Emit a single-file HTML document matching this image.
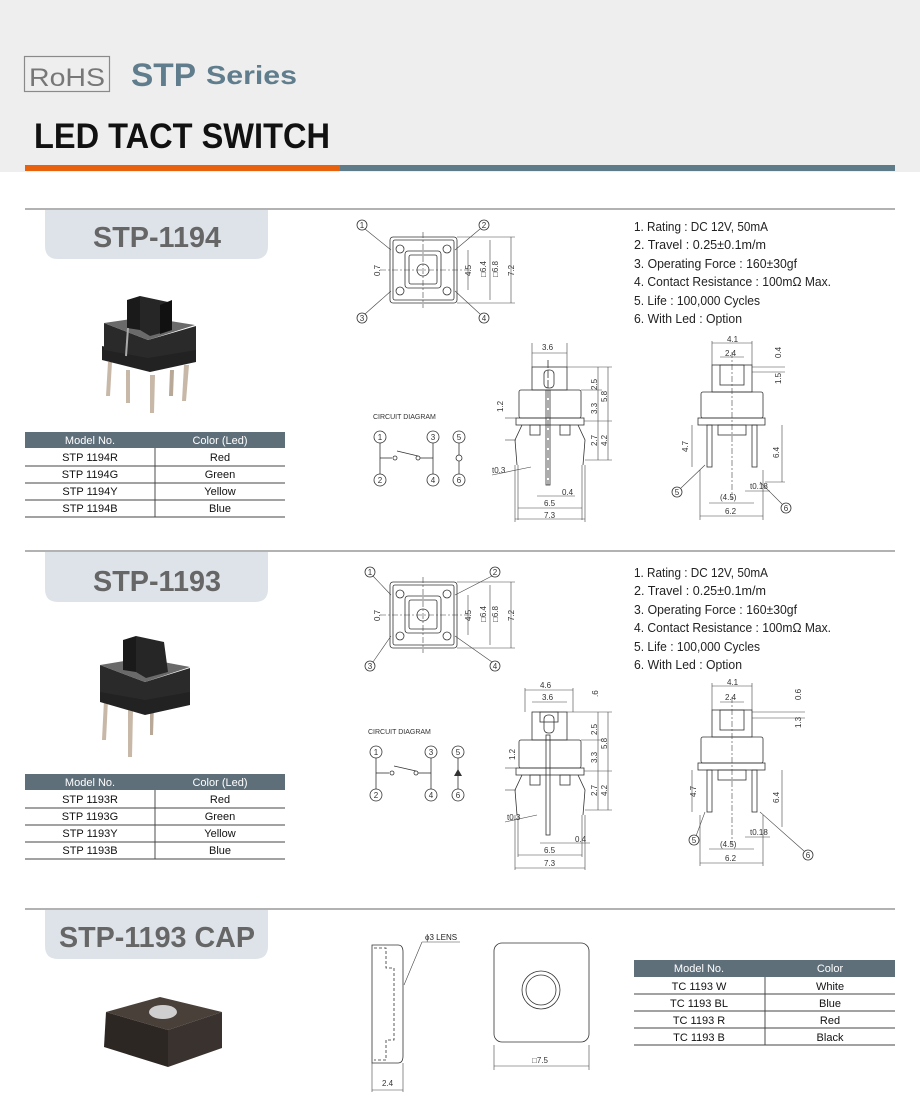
<!DOCTYPE html>
<html><head><meta charset="utf-8"><style>
html,body{margin:0;padding:0;background:#fff}
svg{display:block}
text{font-family:"Liberation Sans",sans-serif}
.d{fill:none;stroke:#333;stroke-width:0.8}
.t{stroke:#444;stroke-width:0.6;fill:none}
.s{font-size:8px;fill:#333}
.sp{font-size:13px;fill:#222}
.tb{font-size:11px;fill:#111;text-anchor:middle}
.th{font-size:11px;fill:#fff;text-anchor:middle}
.c{fill:#fff;stroke:#333;stroke-width:0.8}
.cn{font-size:8px;fill:#333;text-anchor:middle}
</style></head><body>
<svg width="920" height="1104" viewBox="0 0 920 1104" xmlns="http://www.w3.org/2000/svg">
<rect x="0" y="0" width="920" height="172" fill="#eeeeee"/>
<rect x="24.5" y="56.5" width="85" height="35" fill="none" stroke="#8a8a8a" stroke-width="1.2"/>
<text x="29" y="86" font-size="25" fill="#777" textLength="76" lengthAdjust="spacingAndGlyphs">RoHS</text>
<text x="131" y="86" font-size="32" font-weight="bold" fill="#5f7d8c" textLength="65" lengthAdjust="spacingAndGlyphs">STP</text>
<text x="206" y="84" font-size="26" font-weight="bold" fill="#5f7d8c" textLength="91" lengthAdjust="spacingAndGlyphs">Series</text>
<text x="34" y="148" font-size="35" font-weight="bold" fill="#111" textLength="296" lengthAdjust="spacingAndGlyphs">LED TACT SWITCH</text>
<rect x="25" y="165" width="315" height="6" fill="#e8620e"/>
<rect x="340" y="165" width="555" height="6" fill="#5e7b89"/>

<g>
<line x1="25" y1="209" x2="895" y2="209" stroke="#999" stroke-width="1.5"/>
<path d="M45 210 H268 V246 Q268 259 255 259 H58 Q45 259 45 246 Z" fill="#dde3e8"/>
<text x="157" y="247" font-size="29" font-weight="bold" fill="#666" text-anchor="middle" textLength="128" lengthAdjust="spacingAndGlyphs">STP-1194</text>
<line x1="25" y1="551" x2="895" y2="551" stroke="#999" stroke-width="1.5"/>
<path d="M45 552 H268 V589 Q268 602 255 602 H58 Q45 602 45 589 Z" fill="#dde3e8"/>
<text x="157" y="591" font-size="29" font-weight="bold" fill="#666" text-anchor="middle" textLength="128" lengthAdjust="spacingAndGlyphs">STP-1193</text>
<line x1="25" y1="909" x2="895" y2="909" stroke="#999" stroke-width="1.5"/>
<path d="M45 910 H268 V946 Q268 959 255 959 H58 Q45 959 45 946 Z" fill="#dde3e8"/>
<text x="157" y="947" font-size="29" font-weight="bold" fill="#666" text-anchor="middle" textLength="196" lengthAdjust="spacingAndGlyphs">STP-1193 CAP</text>
</g>

<g>
<polygon points="108,362 112,362 110,396 106,396" fill="#c8b8a8"/>
<polygon points="126,370 130,370 130,403 126,403" fill="#c8b8a8"/>
<polygon points="150,375 155,375 154,413 150,413" fill="#c8b8a8"/>
<polygon points="170,370 174,370 173,396 169,396" fill="#b8a898"/>
<polygon points="184,365 189,365 186,401 182,401" fill="#c8b8a8"/>
<polygon points="102,346 148,356 196,348 196,362 150,372 102,360" fill="#222"/>
<polygon points="104,323 104,350 148,358 196,350 196,326 148,340" fill="#2a2a2a"/>
<polygon points="104,323 145,317 195,325 148,340" fill="#6a6a6a"/>
<polygon points="127,300 140,296 140,330 127,328" fill="#1a1a1a"/>
<polygon points="140,296 168,302 172,330 150,336 140,330" fill="#262626"/>
<polygon points="160,305 172,300 172,330 160,334" fill="#111"/>
<line x1="128" y1="328" x2="126" y2="356" stroke="#aaa" stroke-width="2"/>
</g>
<g>
<polygon points="104,700 108,700 106,740 102,740" fill="#c8b8a8"/>
<polygon points="128,710 133,710 132,757 128,757" fill="#c8b8a8"/>
<polygon points="150,705 154,705 153,735 150,735" fill="#b8a898"/>
<polygon points="100,688 145,698 190,690 190,705 145,715 100,702" fill="#222"/>
<polygon points="100,665 100,692 145,700 190,692 190,668 145,682" fill="#2a2a2a"/>
<polygon points="100,665 142,658 190,667 145,682" fill="#6a6a6a"/>
<polygon points="123,640 136,636 136,672 123,670" fill="#1a1a1a"/>
<polygon points="136,636 164,642 168,672 146,678 136,672" fill="#262626"/>
</g>
<g>
<polygon points="106,1012 160,997 222,1012 168,1030" fill="#4a403a"/>
<polygon points="106,1012 168,1030 168,1067 104,1047" fill="#2d2724"/>
<polygon points="168,1030 222,1012 222,1048 168,1067" fill="#3a322e"/>
<ellipse cx="163" cy="1012" rx="14" ry="7" fill="#cfcfcf"/>
</g>

<g>
<rect x="25" y="432" width="260" height="16" fill="#5e6f7a"/>
<text class="th" x="90" y="444">Model No.</text><text class="th" x="220" y="444">Color (Led)</text>
<line x1="155" y1="448" x2="155" y2="517" stroke="#222" stroke-width="0.8"/>
<g stroke="#444" stroke-width="1"><line x1="25" y1="466" x2="285" y2="466"/><line x1="25" y1="483" x2="285" y2="483"/><line x1="25" y1="500" x2="285" y2="500"/><line x1="25" y1="517" x2="285" y2="517"/></g>
<text class="tb" x="90" y="461">STP 1194R</text><text class="tb" x="220" y="461">Red</text>
<text class="tb" x="90" y="478">STP 1194G</text><text class="tb" x="220" y="478">Green</text>
<text class="tb" x="90" y="495">STP 1194Y</text><text class="tb" x="220" y="495">Yellow</text>
<text class="tb" x="90" y="512">STP 1194B</text><text class="tb" x="220" y="512">Blue</text>
</g>
<g>
<rect x="25" y="774" width="260" height="16" fill="#5e6f7a"/>
<text class="th" x="90" y="786">Model No.</text><text class="th" x="220" y="786">Color (Led)</text>
<line x1="155" y1="790" x2="155" y2="859" stroke="#222" stroke-width="0.8"/>
<g stroke="#444" stroke-width="1"><line x1="25" y1="808" x2="285" y2="808"/><line x1="25" y1="825" x2="285" y2="825"/><line x1="25" y1="842" x2="285" y2="842"/><line x1="25" y1="859" x2="285" y2="859"/></g>
<text class="tb" x="90" y="803">STP 1193R</text><text class="tb" x="220" y="803">Red</text>
<text class="tb" x="90" y="820">STP 1193G</text><text class="tb" x="220" y="820">Green</text>
<text class="tb" x="90" y="837">STP 1193Y</text><text class="tb" x="220" y="837">Yellow</text>
<text class="tb" x="90" y="854">STP 1193B</text><text class="tb" x="220" y="854">Blue</text>
</g>
<g>
<rect x="634" y="960" width="261" height="17" fill="#5e6f7a"/>
<text class="th" x="699" y="972">Model No.</text><text class="th" x="830" y="972">Color</text>
<line x1="765" y1="977" x2="765" y2="1045" stroke="#222" stroke-width="0.8"/>
<g stroke="#444" stroke-width="1"><line x1="634" y1="994" x2="895" y2="994"/><line x1="634" y1="1011" x2="895" y2="1011"/><line x1="634" y1="1028" x2="895" y2="1028"/><line x1="634" y1="1045" x2="895" y2="1045"/></g>
<text class="tb" x="699" y="990">TC 1193 W</text><text class="tb" x="830" y="990">White</text>
<text class="tb" x="699" y="1007">TC 1193 BL</text><text class="tb" x="830" y="1007">Blue</text>
<text class="tb" x="699" y="1024">TC 1193 R</text><text class="tb" x="830" y="1024">Red</text>
<text class="tb" x="699" y="1041">TC 1193 B</text><text class="tb" x="830" y="1041">Black</text>
</g>

<g>
<text class="sp" x="634" y="231" textLength="134" lengthAdjust="spacingAndGlyphs">1. Rating : DC 12V, 50mA</text>
<text class="sp" x="634" y="249" textLength="132" lengthAdjust="spacingAndGlyphs">2. Travel : 0.25±0.1m/m</text>
<text class="sp" x="634" y="268" textLength="163" lengthAdjust="spacingAndGlyphs">3. Operating Force : 160±30gf</text>
<text class="sp" x="634" y="286" textLength="197" lengthAdjust="spacingAndGlyphs">4. Contact Resistance : 100mΩ Max.</text>
<text class="sp" x="634" y="305" textLength="126" lengthAdjust="spacingAndGlyphs">5. Life : 100,000 Cycles</text>
<text class="sp" x="634" y="323" textLength="108" lengthAdjust="spacingAndGlyphs">6. With Led : Option</text>
<text class="sp" x="634" y="577" textLength="134" lengthAdjust="spacingAndGlyphs">1. Rating : DC 12V, 50mA</text>
<text class="sp" x="634" y="595" textLength="132" lengthAdjust="spacingAndGlyphs">2. Travel : 0.25±0.1m/m</text>
<text class="sp" x="634" y="614" textLength="163" lengthAdjust="spacingAndGlyphs">3. Operating Force : 160±30gf</text>
<text class="sp" x="634" y="632" textLength="197" lengthAdjust="spacingAndGlyphs">4. Contact Resistance : 100mΩ Max.</text>
<text class="sp" x="634" y="651" textLength="126" lengthAdjust="spacingAndGlyphs">5. Life : 100,000 Cycles</text>
<text class="sp" x="634" y="669" textLength="108" lengthAdjust="spacingAndGlyphs">6. With Led : Option</text>
</g>

<g>
<rect class="d" x="390" y="237" width="67" height="66" rx="3"/>
<rect class="d" x="393" y="240" width="61" height="60" rx="2"/>
<rect class="d" x="405" y="251" width="36" height="37" rx="3"/>
<rect class="d" x="409" y="255" width="28" height="29" rx="2"/>
<circle class="d" cx="400" cy="249" r="4"/><circle class="d" cx="447" cy="249" r="4"/>
<circle class="d" cx="400" cy="291" r="4"/><circle class="d" cx="447" cy="291" r="4"/>
<circle class="d" cx="423" cy="270" r="6"/>
<line class="t" x1="380" y1="270" x2="470" y2="270" stroke-dasharray="6,2,2,2"/>
<line class="t" x1="423" y1="232" x2="423" y2="308" stroke-dasharray="6,2,2,2"/>
<line class="t" x1="457" y1="237" x2="515" y2="237"/><line class="t" x1="457" y1="303" x2="515" y2="303"/>
<line class="t" x1="468" y1="250" x2="468" y2="290"/><line class="t" x1="490" y1="240" x2="490" y2="300"/><line class="t" x1="511" y1="237" x2="511" y2="303"/>
<text class="s" transform="translate(471,276) rotate(-90)">4.5</text>
<text class="s" transform="translate(486,277) rotate(-90)">□6.4</text>
<text class="s" transform="translate(498,277) rotate(-90)">□6.8</text>
<text class="s" transform="translate(514,276) rotate(-90)">7.2</text>
<text class="s" transform="translate(380,276) rotate(-90)">0.7</text>
<line class="t" x1="365" y1="229" x2="391" y2="250"/><line class="t" x1="480" y1="229" x2="455" y2="250"/>
<line class="t" x1="365" y1="314" x2="391" y2="291"/><line class="t" x1="480" y1="314" x2="455" y2="291"/>
<circle class="c" cx="362" cy="225" r="5"/><text class="cn" x="362" y="228">1</text>
<circle class="c" cx="484" cy="225" r="5"/><text class="cn" x="484" y="228">2</text>
<circle class="c" cx="362" cy="318" r="5"/><text class="cn" x="362" y="321">3</text>
<circle class="c" cx="484" cy="318" r="5"/><text class="cn" x="484" y="321">4</text>
<text x="373" y="419" font-size="7" fill="#333">CIRCUIT DIAGRAM</text>
<circle class="c" cx="380" cy="437" r="6"/><text class="cn" x="380" y="440">1</text>
<circle class="c" cx="380" cy="480" r="6"/><text class="cn" x="380" y="483">2</text>
<circle class="c" cx="433" cy="437" r="6"/><text class="cn" x="433" y="440">3</text>
<circle class="c" cx="433" cy="480" r="6"/><text class="cn" x="433" y="483">4</text>
<circle class="c" cx="459" cy="437" r="6"/><text class="cn" x="459" y="440">5</text>
<circle class="c" cx="459" cy="480" r="6"/><text class="cn" x="459" y="483">6</text>
<line class="d" x1="380" y1="443" x2="380" y2="474"/><line class="d" x1="433" y1="443" x2="433" y2="474"/>
<line class="d" x1="380" y1="458" x2="392" y2="458"/><line class="d" x1="420" y1="458" x2="433" y2="458"/>
<circle class="c" cx="395" cy="458" r="2"/><circle class="c" cx="418" cy="458" r="2"/><line class="d" x1="397" y1="451" x2="418" y2="456"/>
<line class="d" x1="459" y1="443" x2="459" y2="474"/><circle class="c" cx="459" cy="458" r="3"/>
<rect class="d" x="532" y="367" width="35" height="23"/>
<rect class="d" x="544" y="370" width="10" height="18" rx="4"/>
<rect class="d" x="519" y="390" width="62" height="28" rx="2"/>
<rect class="d" x="516" y="418" width="68" height="7"/>
<rect class="d" x="530" y="425" width="10" height="10"/><rect class="d" x="560" y="425" width="10" height="10"/>
<polyline class="d" points="522,425 515,440 517,465"/><polyline class="d" points="578,425 585,440 583,465"/>
<line class="d" x1="548" y1="360" x2="548" y2="485" stroke-dasharray="8,2"/><rect class="d" x="546" y="390" width="4" height="95"/>
<line class="t" x1="532" y1="343" x2="532" y2="367"/><line class="t" x1="567" y1="343" x2="567" y2="367"/><line class="t" x1="532" y1="353" x2="567" y2="353"/>
<text class="s" x="542" y="350">3.6</text>
<line class="t" x1="567" y1="367" x2="612" y2="367"/><line class="t" x1="581" y1="390" x2="602" y2="390"/><line class="t" x1="584" y1="421" x2="612" y2="421"/><line class="t" x1="585" y1="460" x2="612" y2="460"/>
<line class="t" x1="598" y1="367" x2="598" y2="460"/><line class="t" x1="608" y1="367" x2="608" y2="460"/>
<text class="s" transform="translate(597,390) rotate(-90)">2.5</text><text class="s" transform="translate(607,402) rotate(-90)">5.8</text>
<text class="s" transform="translate(597,414) rotate(-90)">3.3</text><text class="s" transform="translate(597,446) rotate(-90)">2.7</text><text class="s" transform="translate(607,446) rotate(-90)">4.2</text>
<text class="s" transform="translate(503,412) rotate(-90)">1.2</text>
<line class="t" x1="505" y1="418" x2="516" y2="418"/><line class="t" x1="505" y1="440" x2="516" y2="440"/>
<text class="s" x="492" y="473">t0.3</text><line class="t" x1="492" y1="475" x2="531" y2="467"/>
<text class="s" x="562" y="495">0.4</text><line class="t" x1="537" y1="496" x2="575" y2="496"/>
<line class="t" x1="518" y1="465" x2="518" y2="520"/><line class="t" x1="582" y1="465" x2="582" y2="520"/><line class="t" x1="515" y1="465" x2="515" y2="522"/><line class="t" x1="585" y1="465" x2="585" y2="522"/>
<line class="t" x1="518" y1="508" x2="582" y2="508"/><text class="s" x="544" y="506">6.5</text>
<line class="t" x1="515" y1="519" x2="585" y2="519"/><text class="s" x="544" y="518">7.3</text>
<rect class="d" x="712" y="365" width="40" height="27"/>
<rect class="d" x="720" y="365" width="24" height="20"/>
<rect class="d" x="701" y="392" width="62" height="26" rx="2"/>
<rect class="d" x="698" y="418" width="67" height="7"/>
<rect class="d" x="718" y="425" width="28" height="10"/>
<rect class="d" x="707" y="425" width="5" height="42"/><rect class="d" x="752" y="425" width="5" height="42"/>
<line class="t" x1="732" y1="352" x2="732" y2="500" stroke-dasharray="6,2,2,2"/>
<line class="t" x1="712" y1="341" x2="712" y2="365"/><line class="t" x1="752" y1="341" x2="752" y2="365"/><line class="t" x1="712" y1="343" x2="752" y2="343"/>
<text class="s" x="727" y="342">4.1</text><text class="s" x="725" y="356">2.4</text><line class="t" x1="720" y1="357" x2="744" y2="357"/>
<text class="s" transform="translate(781,358) rotate(-90)">0.4</text><text class="s" transform="translate(781,384) rotate(-90)">1.5</text>
<line class="t" x1="752" y1="367" x2="785" y2="367"/><line class="t" x1="752" y1="372" x2="785" y2="372"/>
<line class="t" x1="692" y1="425" x2="692" y2="467"/><text class="s" transform="translate(688,452) rotate(-90)">4.7</text>
<line class="t" x1="782" y1="425" x2="782" y2="482"/><text class="s" transform="translate(779,458) rotate(-90)">6.4</text>
<line class="t" x1="765" y1="482" x2="785" y2="482"/>
<text class="s" x="750" y="489">t0.18</text><line class="t" x1="745" y1="491" x2="770" y2="491"/>
<text class="s" x="720" y="500">(4.5)</text><line class="t" x1="709" y1="503" x2="754" y2="503"/>
<line class="t" x1="700" y1="470" x2="700" y2="520"/><line class="t" x1="763" y1="470" x2="763" y2="520"/>
<line class="t" x1="700" y1="516" x2="763" y2="516"/><text class="s" x="725" y="514">6.2</text>
<line class="t" x1="681" y1="488" x2="705" y2="465"/><circle class="c" cx="677" cy="492" r="5"/><text class="cn" x="677" y="495">5</text>
<line class="t" x1="782" y1="504" x2="760" y2="482"/><circle class="c" cx="786" cy="508" r="5"/><text class="cn" x="786" y="511">6</text>
</g>

<g>
<rect class="d" x="390" y="582" width="67" height="66" rx="3"/>
<rect class="d" x="393" y="585" width="61" height="60" rx="2"/>
<rect class="d" x="405" y="596" width="36" height="37" rx="3"/>
<rect class="d" x="409" y="600" width="28" height="29" rx="2"/>
<circle class="d" cx="400" cy="594" r="4"/><circle class="d" cx="447" cy="594" r="4"/>
<circle class="d" cx="400" cy="636" r="4"/><circle class="d" cx="447" cy="636" r="4"/>
<circle class="d" cx="423" cy="615" r="6"/>
<line class="t" x1="380" y1="615" x2="470" y2="615" stroke-dasharray="6,2,2,2"/>
<line class="t" x1="423" y1="577" x2="423" y2="653" stroke-dasharray="6,2,2,2"/>
<line class="t" x1="457" y1="582" x2="515" y2="582"/><line class="t" x1="457" y1="648" x2="515" y2="648"/>
<line class="t" x1="468" y1="595" x2="468" y2="635"/><line class="t" x1="490" y1="585" x2="490" y2="645"/><line class="t" x1="511" y1="582" x2="511" y2="648"/>
<text class="s" transform="translate(471,621) rotate(-90)">4.5</text>
<text class="s" transform="translate(486,622) rotate(-90)">□6.4</text>
<text class="s" transform="translate(498,622) rotate(-90)">□6.8</text>
<text class="s" transform="translate(514,621) rotate(-90)">7.2</text>
<text class="s" transform="translate(380,621) rotate(-90)">0.7</text>
<line class="t" x1="373" y1="576" x2="391" y2="595"/><line class="t" x1="492" y1="576" x2="455" y2="595"/>
<line class="t" x1="373" y1="662" x2="391" y2="636"/><line class="t" x1="492" y1="662" x2="455" y2="636"/>
<circle class="c" cx="370" cy="572" r="5"/><text class="cn" x="370" y="575">1</text>
<circle class="c" cx="495" cy="572" r="5"/><text class="cn" x="495" y="575">2</text>
<circle class="c" cx="370" cy="666" r="5"/><text class="cn" x="370" y="669">3</text>
<circle class="c" cx="495" cy="666" r="5"/><text class="cn" x="495" y="669">4</text>
<text x="368" y="734" font-size="7" fill="#333">CIRCUIT DIAGRAM</text>
<circle class="c" cx="376" cy="752" r="6"/><text class="cn" x="376" y="755">1</text>
<circle class="c" cx="376" cy="795" r="6"/><text class="cn" x="376" y="798">2</text>
<circle class="c" cx="431" cy="752" r="6"/><text class="cn" x="431" y="755">3</text>
<circle class="c" cx="431" cy="795" r="6"/><text class="cn" x="431" y="798">4</text>
<circle class="c" cx="458" cy="752" r="6"/><text class="cn" x="458" y="755">5</text>
<circle class="c" cx="458" cy="795" r="6"/><text class="cn" x="458" y="798">6</text>
<line class="d" x1="376" y1="758" x2="376" y2="789"/><line class="d" x1="431" y1="758" x2="431" y2="789"/>
<line class="d" x1="376" y1="773" x2="389" y2="773"/><line class="d" x1="418" y1="773" x2="431" y2="773"/>
<circle class="c" cx="392" cy="773" r="2"/><circle class="c" cx="416" cy="773" r="2"/><line class="d" x1="394" y1="766" x2="416" y2="771"/>
<line class="d" x1="458" y1="758" x2="458" y2="789"/><polygon points="454,776 462,776 458,769" fill="#333"/>
<rect class="d" x="540" y="712" width="18" height="10"/>
<rect class="d" x="532" y="712" width="35" height="28"/>
<rect class="d" x="544" y="715" width="10" height="18" rx="4"/>
<rect class="d" x="519" y="740" width="62" height="28" rx="2"/>
<rect class="d" x="516" y="768" width="68" height="7"/>
<rect class="d" x="530" y="775" width="10" height="10"/><rect class="d" x="560" y="775" width="10" height="10"/>
<polyline class="d" points="522,775 515,790 517,815"/><polyline class="d" points="578,775 585,790 583,815"/>
<rect class="d" x="546" y="735" width="4" height="100"/>
<line class="t" x1="525" y1="688" x2="525" y2="712"/><line class="t" x1="573" y1="688" x2="573" y2="712"/><line class="t" x1="525" y1="690" x2="573" y2="690"/>
<text class="s" x="540" y="688">4.6</text>
<line class="t" x1="532" y1="702" x2="567" y2="702"/><text class="s" x="542" y="700">3.6</text>
<text class="s" transform="translate(598,697) rotate(-90)">.6</text>
<line class="t" x1="567" y1="712" x2="612" y2="712"/><line class="t" x1="581" y1="740" x2="602" y2="740"/><line class="t" x1="584" y1="771" x2="612" y2="771"/><line class="t" x1="585" y1="810" x2="612" y2="810"/>
<line class="t" x1="598" y1="712" x2="598" y2="810"/><line class="t" x1="608" y1="712" x2="608" y2="810"/>
<text class="s" transform="translate(597,735) rotate(-90)">2.5</text><text class="s" transform="translate(607,749) rotate(-90)">5.8</text>
<text class="s" transform="translate(597,763) rotate(-90)">3.3</text><text class="s" transform="translate(597,796) rotate(-90)">2.7</text><text class="s" transform="translate(607,796) rotate(-90)">4.2</text>
<text class="s" transform="translate(515,760) rotate(-90)">1.2</text>
<line class="t" x1="505" y1="768" x2="516" y2="768"/><line class="t" x1="505" y1="790" x2="516" y2="790"/>
<text class="s" x="507" y="820">t0.3</text><line class="t" x1="505" y1="822" x2="537" y2="815"/>
<text class="s" x="575" y="842">0.4</text><line class="t" x1="540" y1="843" x2="590" y2="843"/>
<line class="t" x1="518" y1="815" x2="518" y2="857"/><line class="t" x1="582" y1="815" x2="582" y2="857"/><line class="t" x1="515" y1="815" x2="515" y2="870"/><line class="t" x1="585" y1="815" x2="585" y2="870"/>
<line class="t" x1="518" y1="855" x2="582" y2="855"/><text class="s" x="544" y="853">6.5</text>
<line class="t" x1="515" y1="868" x2="585" y2="868"/><text class="s" x="544" y="866">7.3</text>
<rect class="d" x="712" y="710" width="40" height="27"/>
<rect class="d" x="720" y="710" width="24" height="20"/>
<rect class="d" x="701" y="737" width="62" height="26" rx="2"/>
<rect class="d" x="698" y="763" width="67" height="7"/>
<rect class="d" x="718" y="770" width="28" height="10"/>
<rect class="d" x="707" y="770" width="5" height="42"/><rect class="d" x="752" y="770" width="5" height="42"/>
<line class="t" x1="732" y1="697" x2="732" y2="845" stroke-dasharray="6,2,2,2"/>
<line class="t" x1="712" y1="683" x2="712" y2="710"/><line class="t" x1="752" y1="683" x2="752" y2="710"/><line class="t" x1="712" y1="686" x2="752" y2="686"/>
<text class="s" x="727" y="685">4.1</text><text class="s" x="725" y="700">2.4</text><line class="t" x1="720" y1="702" x2="744" y2="702"/>
<text class="s" transform="translate(801,700) rotate(-90)">0.6</text><text class="s" transform="translate(801,728) rotate(-90)">1.3</text>
<line class="t" x1="752" y1="712" x2="805" y2="712"/><line class="t" x1="752" y1="718" x2="805" y2="718"/>
<line class="t" x1="692" y1="770" x2="692" y2="812"/><text class="s" transform="translate(696,797) rotate(-90)">4.7</text>
<line class="t" x1="782" y1="770" x2="782" y2="827"/><text class="s" transform="translate(779,803) rotate(-90)">6.4</text>
<text class="s" x="750" y="835">t0.18</text><line class="t" x1="745" y1="837" x2="770" y2="837"/>
<text class="s" x="720" y="847">(4.5)</text><line class="t" x1="709" y1="849" x2="754" y2="849"/>
<line class="t" x1="700" y1="815" x2="700" y2="866"/><line class="t" x1="763" y1="815" x2="763" y2="866"/>
<line class="t" x1="700" y1="863" x2="763" y2="863"/><text class="s" x="725" y="861">6.2</text>
<line class="t" x1="696" y1="836" x2="705" y2="812"/><circle class="c" cx="694" cy="840" r="5"/><text class="cn" x="694" y="843">5</text>
<line class="t" x1="804" y1="851" x2="760" y2="812"/><circle class="c" cx="808" cy="855" r="5"/><text class="cn" x="808" y="858">6</text>
</g>

<g>
<path class="d" d="M372 945 H398 Q403 945 403 952 V1056 Q403 1063 398 1063 H372 Z"/>
<path d="M374 948 H386 V968 H394 V1040 H386 V1060 H374" fill="none" stroke="#333" stroke-width="0.8" stroke-dasharray="3,2"/>
<line class="t" x1="404" y1="985" x2="422" y2="942"/><line class="t" x1="422" y1="942" x2="460" y2="942"/>
<text x="425" y="940" font-size="8" fill="#222">ϕ3 LENS</text>
<line class="t" x1="372" y1="1063" x2="372" y2="1092"/><line class="t" x1="403" y1="1063" x2="403" y2="1092"/>
<line class="t" x1="372" y1="1090" x2="403" y2="1090"/><text class="s" x="382" y="1086">2.4</text>
<rect class="d" x="494" y="943" width="95" height="99" rx="8"/>
<circle class="d" cx="541" cy="990" r="19"/><circle class="d" cx="541" cy="990" r="15"/>
<line class="t" x1="494" y1="1045" x2="494" y2="1070"/><line class="t" x1="589" y1="1045" x2="589" y2="1070"/>
<line class="t" x1="494" y1="1066" x2="589" y2="1066"/><text class="s" x="532" y="1063">□7.5</text>
</g>
</svg>
</body></html>
